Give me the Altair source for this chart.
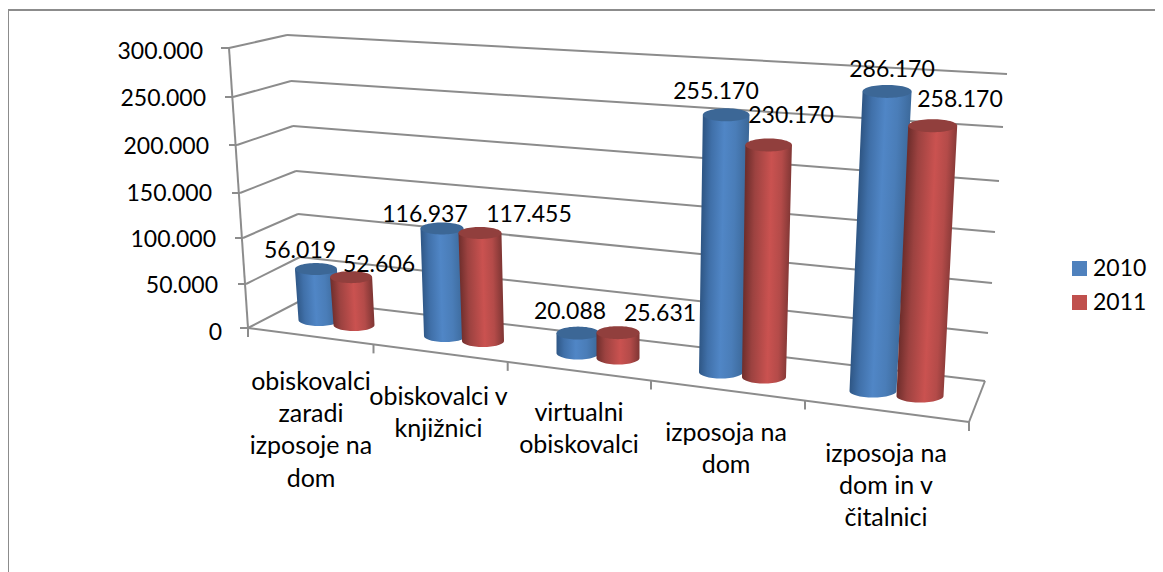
import math
import altair as alt
import pandas as pd

# ---- chart values ----
categories = [["obiskovalci", "zaradi", "izposoje na", "dom"],
              ["obiskovalci v", "knjižnici"],
              ["virtualni", "obiskovalci"],
              ["izposoja na", "dom"],
              ["izposoja na", "dom in v", "čitalnici"]]
values_2010 = [56019, 116937, 20088, 255170, 286170]
values_2011 = [52606, 117455, 25631, 230170, 258170]
value_labels_2010 = ["56.019", "116.937", "20.088", "255.170", "286.170"]
value_labels_2011 = ["52.606", "117.455", "25.631", "230.170", "258.170"]
axis_labels = ["0", "50.000", "100.000", "150.000", "200.000", "250.000", "300.000"]
series = ["2010", "2011"]

# ---- perspective layout (not data) ----
W, H = 1147, 564
FONT = "Lato"
FS = 23
FS_CAT = 25
GRID = "#8c8c8c"
front_left = [(248, 328), (246, 284), (243, 238), (240, 193), (237, 145), (233, 97), (229, 48)]
back_left = [(302, 300), (300, 257), (298, 214), (296, 171), (293, 126), (291, 81), (287, 35)]
back_right = [(985, 381), (988, 333), (992, 283), (995, 232), (999, 181), (1003, 127), (1007, 74)]
front_right = (969, 422)
x_ticks = [248, 373.5, 507.7, 651, 805, 969]
k_cat = [0.91, 0.92, 0.99, 1.008, 1.047]       # px per 1000 units
lean_cat = [-0.06, -0.028, 0.0, 0.02, 0.047]   # sideways shift per px of height
base_2010 = [(319, 320), (445, 336), (578, 353), (721, 372), (873, 391)]
base_2011 = [(354, 325), (483, 341), (618, 358), (764, 377), (920, 396)]
hw_top = [21, 21.5, 21.5, 23.3, 24.5]
hw_base = [20.5, 21, 21.5, 22, 23.5]
ry_cat = [6, 6, 6.5, 6.5, 6.5]

label_pos_2010 = [(300, 249), (425, 213), (570, 310), (716, 90), (892, 68)]
label_pos_2011 = [(379, 263), (529, 213), (660, 312), (791, 114), (960, 98)]
cat_label_x = [311, 438.5, 579, 726, 886]
cat_label_y0 = [382, 397, 413, 433, 454]
axis_label_x = [222, 218, 216, 212, 209, 206, 203]
axis_label_y = [331, 284, 238, 192, 145, 97, 50]

X = alt.X("x:Q", scale=alt.Scale(domain=[8, 8 + W]), axis=None)
Y = alt.Y("y:Q", scale=alt.Scale(domain=[8 + H, 8]), axis=None)

# frame segments
segs = [(8, 10, 1163, 10), (8, 10, 8, 572)]
for fl, bl, br in zip(front_left, back_left, back_right):
    segs.append((fl[0] - 8, fl[1], fl[0], fl[1]))
    if fl is not front_left[0]:
        segs.append((fl[0], fl[1], bl[0], bl[1]))
        segs.append((bl[0], bl[1], br[0], br[1]))
segs += [(front_left[0][0], front_left[0][1], front_left[-1][0], front_left[-1][1]),
         (front_left[0][0], front_left[0][1], back_left[0][0], back_left[0][1]),
         (back_left[0][0], back_left[0][1], back_right[0][0], back_right[0][1]),
         (back_right[0][0], back_right[0][1], front_right[0], front_right[1]),
         (front_left[0][0], front_left[0][1], front_right[0], front_right[1])]
slope = (front_right[1] - front_left[0][1]) / (front_right[0] - front_left[0][0])
for tx in x_ticks:
    ty = front_left[0][1] + (tx - front_left[0][0]) * slope
    segs.append((tx, ty, tx, ty + 9))
frame = alt.Chart(pd.DataFrame(segs, columns=["x", "y", "x2", "y2"])).mark_rule(
    color=GRID, strokeWidth=2
).encode(X, Y, x2="x2:Q", y2="y2:Q")


def gradient(stops, s):
    x1 = max(s, 0)
    a = 1 - abs(s)
    return alt.Gradient(gradient="linear", x1=x1, y1=0, x2=x1 + a, y2=a * s,
                        stops=[alt.GradientStop(offset=o, color=c) for o, c in stops])


STOPS = {
    "2010": [(0, "#2f5786"), (0.18, "#4070a9"), (0.45, "#5086c6"), (0.7, "#4a7db8"), (1, "#3a6696")],
    "2011": [(0, "#6f2e2c"), (0.2, "#9c4240"), (0.55, "#ca5250"), (0.78, "#b44b49"), (1, "#7f3634")],
}
CAP = {"2010": "#3c6796", "2011": "#913f3d"}


def cylinder(series_name, i, value, base):
    bx, by = base
    h = value / 1000 * k_cat[i]
    tx = bx + h * lean_cat[i]
    ty = by - h
    ry = ry_cat[i]
    body = []
    steps = 6
    for s in range(steps + 1):
        t = s / steps
        y = ty + (by - ty) * t
        cx = tx + (bx - tx) * t
        a = hw_top[i] + (hw_base[i] - hw_top[i]) * t
        body.append({"x": cx - a, "x2": cx + a, "y": y})
    for s in range(1, 17):
        ang = s / 16 * math.pi / 2
        y = by + ry * math.sin(ang)
        a = hw_base[i] * math.cos(ang)
        body.append({"x": bx - a, "x2": bx + a, "y": y})
    cap = []
    for s in range(0, 33):
        ang = -math.pi / 2 + s / 32 * math.pi
        cap.append({"x": tx - hw_top[i] * math.cos(ang), "x2": tx + hw_top[i] * math.cos(ang),
                    "y": ty + ry * math.sin(ang)})
    width = 2 * max(hw_top[i], hw_base[i]) + abs(tx - bx)
    skew = (tx - bx) / width
    body_layer = alt.Chart(pd.DataFrame(body)).mark_area(
        orient="horizontal", color=gradient(STOPS[series_name], skew)
    ).encode(X, Y, x2="x2:Q")
    cap_layer = alt.Chart(pd.DataFrame(cap)).mark_area(
        orient="horizontal", color=CAP[series_name]
    ).encode(X, Y, x2="x2:Q")
    return [body_layer, cap_layer]


layers = [frame]
for i in range(5):
    layers += cylinder("2010", i, values_2010[i], base_2010[i])
    layers += cylinder("2011", i, values_2011[i], base_2011[i])

# texts
value_rows = [{"x": p[0], "y": p[1], "t": lab}
              for lab, p in zip(value_labels_2010 + value_labels_2011, label_pos_2010 + label_pos_2011)]
text_values = alt.Chart(pd.DataFrame(value_rows)).mark_text(
    font=FONT, fontSize=FS, color="#000000", align="center", baseline="middle", dy=1.5
).encode(X, Y, text="t:N")

cat_rows = []
for lines, cx, y0 in zip(categories, cat_label_x, cat_label_y0):
    for n, line in enumerate(lines):
        cat_rows.append({"x": cx, "y": y0 + n * 32.2, "t": line})
text_cats = alt.Chart(pd.DataFrame(cat_rows)).mark_text(
    font=FONT, fontSize=FS_CAT, color="#000000", align="center", baseline="middle"
).encode(X, Y, text="t:N")

right_rows = [{"x": x, "y": y, "t": t} for x, y, t in zip(axis_label_x, axis_label_y, axis_labels)]
text_right = alt.Chart(pd.DataFrame(right_rows)).mark_text(
    font=FONT, fontSize=FS, color="#000000", align="right", baseline="middle", dy=1.5
).encode(X, Y, text="t:N")

legend_rows = pd.DataFrame({"x": [1079.5, 1079.5], "y": [268.5, 302.5], "s": series,
                            "tx": [1093, 1093]})
legend_sq = alt.Chart(legend_rows).mark_square(size=225, opacity=1, filled=True).encode(
    X, Y,
    color=alt.Color("s:N", scale=alt.Scale(domain=series, range=["#4f81bd", "#c0504d"]), legend=None),
)
legend_txt = alt.Chart(legend_rows).mark_text(
    font=FONT, fontSize=FS, color="#000000", align="left", baseline="middle"
).encode(alt.X("tx:Q", scale=alt.Scale(domain=[8, 8 + W]), axis=None), Y, text="s:N")

layers += [text_values, text_cats, text_right, legend_sq, legend_txt]

chart = alt.layer(*layers).properties(
    width=W, height=H, padding=0,
    autosize=alt.AutoSizeParams(type="none"),
    background="#ffffff",
).configure_view(stroke=None)

chart.save("out.html", embed_options={"renderer": "svg", "actions": False})
